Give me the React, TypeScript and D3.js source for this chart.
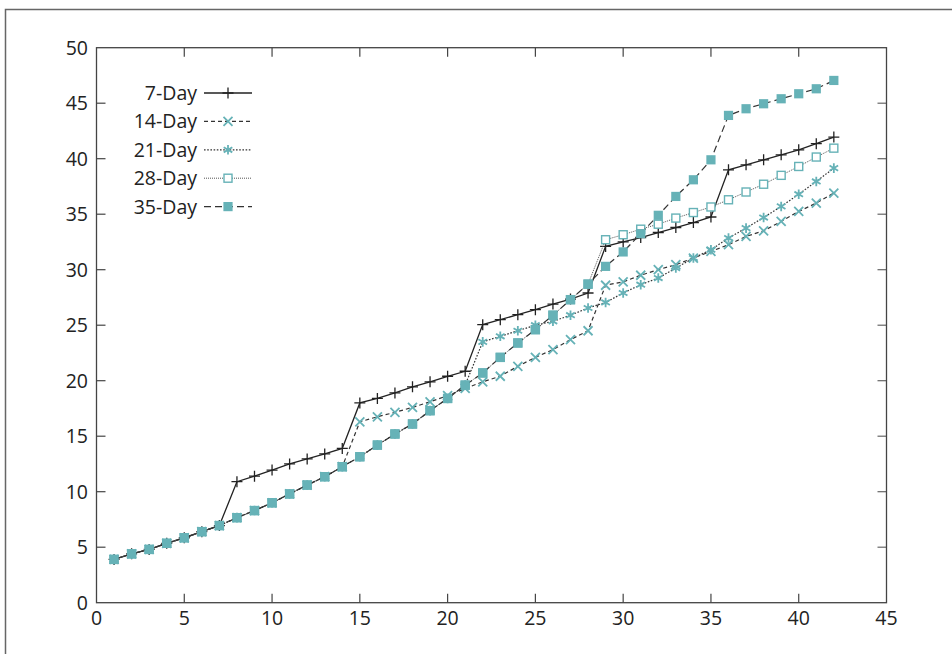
import React from "react";
import * as d3 from "d3";

const days = [1,2,3,4,5,6,7,8,9,10,11,12,13,14,15,16,17,18,19,20,21,22,23,24,25,26,27,28,29,30,31,32,33,34,35,36,37,38,39,40,41,42];

const day7 = [3.9,4.4,4.8,5.35,5.85,6.4,6.95,10.9,11.4,11.95,12.5,12.95,13.4,13.9,18.0,18.4,18.9,19.45,19.9,20.4,20.85,25.05,25.5,25.95,26.4,26.9,27.35,27.9,32.1,32.5,32.9,33.35,33.8,34.25,34.75,39.0,39.45,39.9,40.35,40.8,41.35,41.95];
const day14 = [3.9,4.4,4.8,5.35,5.85,6.4,6.95,7.66,8.3,9.0,9.8,10.6,11.35,12.25,16.3,16.75,17.15,17.6,18.1,18.65,19.3,19.9,20.4,21.3,22.1,22.8,23.7,24.5,28.6,28.9,29.5,30.0,30.45,31.05,31.65,32.25,33.0,33.5,34.35,35.25,36.0,36.9];
const day21 = [3.9,4.4,4.8,5.35,5.85,6.4,6.95,7.66,8.3,9.0,9.8,10.6,11.35,12.25,13.15,14.2,15.2,16.1,17.3,18.4,19.6,23.5,24.0,24.5,25.0,25.35,25.9,26.55,27.05,27.9,28.65,29.25,30.15,31.05,31.8,32.85,33.75,34.7,35.7,36.8,37.95,39.15];
const day28 = [3.9,4.4,4.8,5.35,5.85,6.4,6.95,7.66,8.3,9.0,9.8,10.6,11.35,12.25,13.15,14.2,15.2,16.1,17.3,18.4,19.6,20.7,22.1,23.4,24.6,25.9,27.3,28.7,32.7,33.15,33.65,34.1,34.65,35.15,35.65,36.3,37.0,37.7,38.5,39.3,40.15,40.95];
const day35 = [3.9,4.4,4.8,5.35,5.85,6.4,6.95,7.66,8.3,9.0,9.8,10.6,11.35,12.25,13.15,14.2,15.2,16.1,17.3,18.4,19.6,20.7,22.1,23.4,24.6,25.9,27.3,28.7,30.3,31.6,33.25,34.9,36.6,38.1,39.9,43.9,44.5,44.95,45.4,45.85,46.3,47.05];

const seriesNames = ["7-Day", "14-Day", "21-Day", "28-Day", "35-Day"];
const seriesValues = [day7, day14, day21, day28, day35];

const xTicks = [0,5,10,15,20,25,30,35,40,45];
const yTicks = [0,5,10,15,20,25,30,35,40,45,50];

const TEAL = "#66b2b7";
const FONT = "'Open Sans', 'Noto Sans', sans-serif";

type Style = { stroke: string; dash: string; width: number; marker: string };
const styles: Style[] = [
  { stroke: "#222", dash: "", width: 1.3, marker: "plus" },
  { stroke: "#333", dash: "4,3", width: 1.2, marker: "cross" },
  { stroke: "#333", dash: "1.6,1.6", width: 1.2, marker: "star" },
  { stroke: "#555", dash: "1,1", width: 1, marker: "openSquare" },
  { stroke: "#333", dash: "7,4", width: 1.2, marker: "filledSquare" },
];

function Marker({ kind, x, y }: { kind: string; x: number; y: number }) {
  const r = 5;
  if (kind === "plus") {
    return (
      <path d={`M${x - r - 0.5},${y}H${x + r + 0.5}M${x},${y - r - 0.5}V${y + r + 0.5}`} stroke="#222" strokeWidth={1.3} fill="none" />
    );
  }
  if (kind === "cross") {
    const s = 4.5;
    return (
      <path d={`M${x - s},${y - s}L${x + s},${y + s}M${x - s},${y + s}L${x + s},${y - s}`} stroke={TEAL} strokeWidth={1.8} fill="none" />
    );
  }
  if (kind === "star") {
    const s = 4.3;
    return (
      <path d={`M${x - s},${y - s * 0.6}L${x + s},${y + s * 0.6}M${x - s},${y + s * 0.6}L${x + s},${y - s * 0.6}M${x},${y - s - 0.5}V${y + s + 0.5}`} stroke={TEAL} strokeWidth={1.8} fill="none" />
    );
  }
  if (kind === "openSquare") {
    const s = 4;
    return <rect x={x - s} y={y - s} width={2 * s} height={2 * s} fill="white" stroke={TEAL} strokeWidth={1.4} />;
  }
  const s = 4.6;
  return <rect x={x - s} y={y - s} width={2 * s} height={2 * s} fill={TEAL} stroke="none" />;
}

export default function App() {
  const W = 952, H = 654;
  const x = d3.scaleLinear().domain([0, 45]).range([96.5, 886.5]);
  const y = d3.scaleLinear().domain([0, 50]).range([602.7, 47.7]);
  const line = d3.line<[number, number]>().x((d) => x(d[0])).y((d) => y(d[1]));

  const tickLen = 9;
  const legendY0 = 93;
  const legendStep = 28.4;

  return (
    <svg width={W} height={H} style={{ position: "absolute", left: 0, top: 0, background: "white" }}>
      <rect x={0} y={0} width={W} height={H} fill="white" />
      {/* outer frame */}
      <path d={`M5.5,${H + 5}V9.5H${W + 5}`} stroke="#666" strokeWidth={1.5} fill="none" />

      {/* ticks */}
      {xTicks.map((t) => (
        <g key={"xt" + t}>
          {t > 0 && t < 45 && (
            <>
              <line x1={x(t)} x2={x(t)} y1={y(0)} y2={y(0) - tickLen} stroke="#444" strokeWidth={1.2} />
              <line x1={x(t)} x2={x(t)} y1={y(50)} y2={y(50) + tickLen} stroke="#444" strokeWidth={1.2} />
            </>
          )}
          <text x={x(t)} y={625} textAnchor="middle" fontFamily={FONT} fontSize={19.5} fill="#222">{t}</text>
        </g>
      ))}
      {yTicks.map((t) => (
        <g key={"yt" + t}>
          {t > 0 && t < 50 && (
            <>
              <line x1={x(0)} x2={x(0) + tickLen} y1={y(t)} y2={y(t)} stroke="#444" strokeWidth={1.2} />
              <line x1={x(45)} x2={x(45) - tickLen} y1={y(t)} y2={y(t)} stroke="#666" strokeWidth={1.2} />
            </>
          )}
          <text x={88} y={y(t)} dy="0.36em" textAnchor="end" fontFamily={FONT} fontSize={19.5} fill="#222">{t}</text>
        </g>
      ))}

      {/* plot border */}
      <rect x={x(0)} y={y(50)} width={x(45) - x(0)} height={y(0) - y(50)} fill="none" stroke="#444" strokeWidth={1.3} />

      {/* series */}
      {seriesValues.map((vals, si) => {
        const st = styles[si];
        const pts: [number, number][] = days.map((d, i) => [d, vals[i]]);
        return (
          <g key={"s" + si}>
            <path d={line(pts) || ""} fill="none" stroke={st.stroke} strokeWidth={st.width} strokeDasharray={st.dash} />
            {pts.map((p, i) => (
              <Marker key={i} kind={st.marker} x={x(p[0])} y={y(p[1])} />
            ))}
          </g>
        );
      })}

      {/* legend */}
      {seriesNames.map((name, si) => {
        const st = styles[si];
        const ly = legendY0 + si * legendStep;
        return (
          <g key={"lg" + si}>
            <text x={197} y={ly} dy="0.36em" textAnchor="end" fontFamily={FONT} fontSize={19.5} fill="#222">{name}</text>
            <line x1={204} x2={252} y1={ly} y2={ly} stroke={st.stroke} strokeWidth={st.width} strokeDasharray={st.dash} />
            <Marker kind={st.marker} x={228} y={ly} />
          </g>
        );
      })}
    </svg>
  );
}
